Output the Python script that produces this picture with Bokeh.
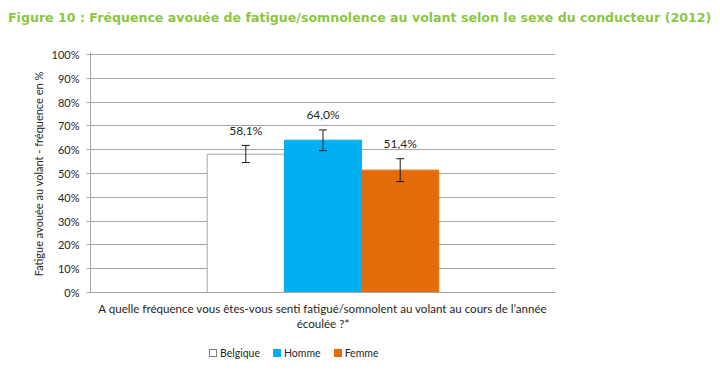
from bokeh.plotting import figure
from bokeh.layouts import column
from bokeh.models import Range1d, ColumnDataSource, Whisker, TeeHead, FixedTicker, PrintfTickFormatter, Div
from bokeh.core.properties import value
from bokeh.embed import file_html
from bokeh.resources import INLINE

# data
series = ["Belgique", "Homme", "Femme"]
values = [58.1, 64.0, 51.4]
err_low = [54.6, 59.6, 46.6]
err_high = [61.8, 68.3, 56.2]
colors = ["#FFFFFF", "#00B0F0", "#E46C0A"]
outline = ["#A6A6A6", "#00B0F0", "#E46C0A"]
y_ticks = [0, 10, 20, 30, 40, 50, 60, 70, 80, 90, 100]
title_text = "Figure 10 : Fréquence avouée de fatigue/somnolence au volant selon le sexe du conducteur (2012)"
x_label_lines = ["A quelle fréquence vous êtes-vous senti fatigué/somnolent au volant au cours de l\u2019année", "écoulée ?*"]
y_label = "Fatigue avouée au volant  - fréquence en %"

FONT = "Lato"
TXT = "#262626"
GRID = "#A6A6A6"
bar_w = 0.166
offsets = [-bar_w, 0.0, bar_w]
xs = [0.5 + o for o in offsets]
labels = [f"{v:.1f}".replace(".", ",") + "%" for v in values]

src = ColumnDataSource(dict(x=xs, top=values, lo=err_low, hi=err_high, label=labels))

# ---- title strip ----
title = Div(text=title_text, width=716, height=40,
            styles={"font-family": "DejaVu Sans", "font-size": "12.6px", "font-weight": "bold",
                    "color": "#8CC63E", "padding-left": "8px", "padding-top": "10px",
                    "line-height": "16px", "white-space": "nowrap", "margin": "0"})

# ---- main chart ----
p = figure(width=716, height=300, output_backend="svg", toolbar_location=None,
           x_range=Range1d(0, 1), y_range=Range1d(0, 100.84),
           min_border_left=90, min_border_right=161, min_border_top=12, min_border_bottom=48)
p.outline_line_color = None
p.background_fill_color = "white"

for i, s in enumerate(series):
    p.vbar(x=[xs[i]], top=[values[i]], width=bar_w, bottom=0,
           fill_color=colors[i], line_color=outline[i], line_width=1)

wh = Whisker(source=src, base="x", upper="hi", lower="lo", line_color="#1a1a1a", line_width=1,
             upper_head=TeeHead(size=8, line_color="#1a1a1a", line_width=1),
             lower_head=TeeHead(size=8, line_color="#1a1a1a", line_width=1), level="overlay")
p.add_layout(wh)

p.text(x="x", y="hi", text="label", source=src, text_align="center", text_baseline="middle",
       y_offset=-15, text_font=value(FONT), text_font_size="12px", text_color=TXT)

# x axis: baseline + two-line category label
p.xaxis.ticker = FixedTicker(ticks=[])
p.xaxis.major_label_text_font_size = "0px"
p.xaxis.major_label_standoff = 0
p.xaxis.axis_line_color = GRID
p.xaxis.major_tick_line_color = None
p.xaxis.minor_tick_line_color = None
p.xaxis.axis_label = x_label_lines[0] + "\n" + x_label_lines[1]
p.xaxis.axis_label_text_font = FONT
p.xaxis.axis_label_text_font_size = "11.6px"
p.xaxis.axis_label_text_font_style = "normal"
p.xaxis.axis_label_text_color = TXT
p.xaxis.axis_label_text_align = "center"
p.xaxis.axis_label_standoff = 9
p.xgrid.visible = False

# y axis
p.yaxis.ticker = FixedTicker(ticks=y_ticks)
p.yaxis.formatter = PrintfTickFormatter(format="%d%%")
p.yaxis.axis_line_color = GRID
p.yaxis.major_tick_line_color = GRID
p.yaxis.major_tick_out = 4
p.yaxis.major_tick_in = 0
p.yaxis.minor_tick_line_color = None
p.yaxis.major_label_text_font = FONT
p.yaxis.major_label_text_font_size = "11px"
p.yaxis.major_label_text_color = TXT
p.yaxis.major_label_standoff = 7
p.yaxis.axis_label = y_label
p.yaxis.axis_label_text_font = FONT
p.yaxis.axis_label_text_font_size = "11px"
p.yaxis.axis_label_text_font_style = "normal"
p.yaxis.axis_label_text_color = TXT
p.yaxis.axis_label_standoff = 4
p.ygrid.ticker = FixedTicker(ticks=y_ticks)
p.ygrid.grid_line_color = GRID
p.ygrid.grid_line_width = 1

# ---- legend strip ----
legend_html = "".join(
    f'<span style="display:inline-block;width:8px;height:8px;box-sizing:border-box;'
    f'background:{colors[i]};border:1px solid {"#7F7F7F" if colors[i] == "#FFFFFF" else outline[i]};'
    f'margin-right:3px;vertical-align:middle"></span>'
    f'<span style="margin-right:13px;vertical-align:middle">{s}</span>'
    for i, s in enumerate(series))
legend = Div(text=legend_html, width=716, height=30,
             styles={"font-family": FONT, "font-size": "10.5px", "color": TXT,
                     "padding-left": "209px", "padding-top": "6px", "line-height": "12px",
                     "white-space": "nowrap", "margin": "0"})

layout = column(title, p, legend, spacing=0)
open("out.html", "w").write(file_html(layout, INLINE))
